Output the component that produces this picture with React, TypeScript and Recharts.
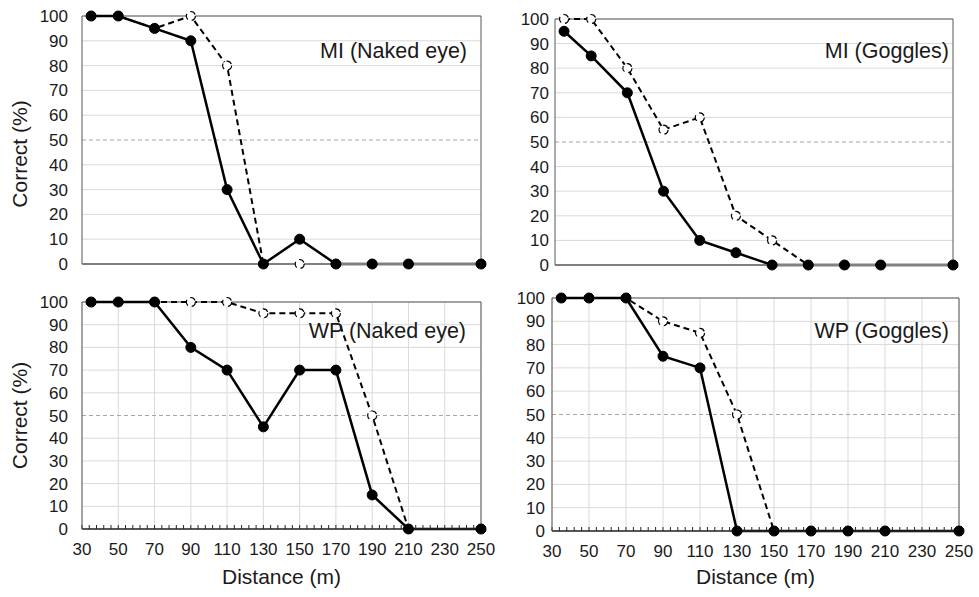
import React from 'react'
import { LineChart, Line, XAxis, YAxis, CartesianGrid, ReferenceLine, Label } from 'recharts'

// distances (m) where each condition was tested
const distances = [35, 50, 70, 90, 110, 130, 150, 170, 190, 210, 250]

// % correct, solid = filled markers, dashed = open markers
const miNakedSolid = [100, 100, 95, 90, 30, 0, 10, 0, 0, 0, 0]
const miNakedDashed = [100, 100, 95, 100, 80, 0, 0, 0, 0, 0, 0]
const miGogglesSolid = [95, 85, 70, 30, 10, 5, 0, 0, 0, 0, 0]
const miGogglesDashed = [100, 100, 80, 55, 60, 20, 10, 0, 0, 0, 0]
const wpNakedSolid = [100, 100, 100, 80, 70, 45, 70, 70, 15, 0, 0]
const wpNakedDashed = [100, 100, 100, 100, 100, 95, 95, 95, 50, 0, 0]
const wpGogglesSolid = [100, 100, 100, 75, 70, 0, 0, 0, 0, 0, 0]
const wpGogglesDashed = [100, 100, 100, 90, 85, 50, 0, 0, 0, 0, 0]

const xTicks = [30, 50, 70, 90, 110, 130, 150, 170, 190, 210, 230, 250]
const yTicks = [0, 10, 20, 30, 40, 50, 60, 70, 80, 90, 100]
const gridY = yTicks.filter((v) => v !== 50)

// minor ticks every 4 m along the bottom axes
const minorTicks: number[] = []
for (let v = 30; v <= 250; v += 4) minorTicks.push(v)

const FONT = '"Liberation Sans", Arial, sans-serif'
const INK = '#1a1a1a'

const panels = [
  {
    title: 'MI (Naked eye)', solid: miNakedSolid, dashed: miNakedDashed,
    left: 0, top: 0, width: 500, height: 290,
    plot: { l: 82, r: 481, t: 16, b: 264 }, tickGap: 14, bottom: false,
    titleRight: 467, titleY: 52.5, yTitle: true, yTitleShift: 14,
  },
  {
    title: 'MI (Goggles)', solid: miGogglesSolid, dashed: miGogglesDashed,
    left: 490, top: 0, width: 489, height: 290,
    plot: { l: 555, r: 953, t: 19, b: 265 }, tickGap: 6, bottom: false,
    titleRight: 949, titleY: 52.5, yTitle: false, yTitleShift: 0,
  },
  {
    title: 'WP (Naked eye)', solid: wpNakedSolid, dashed: wpNakedDashed,
    left: 0, top: 290, width: 500, height: 307,
    plot: { l: 82, r: 481, t: 302, b: 529 }, tickGap: 14, bottom: true,
    titleRight: 466, titleY: 333, yTitle: true, yTitleShift: 0,
  },
  {
    title: 'WP (Goggles)', solid: wpGogglesSolid, dashed: wpGogglesDashed,
    left: 490, top: 290, width: 489, height: 307,
    plot: { l: 552, r: 959, t: 298, b: 531 }, tickGap: 7, bottom: true,
    titleRight: 949, titleY: 332.5, yTitle: false, yTitleShift: 0,
  },
]

const YTitle = ({ viewBox, shift }: any) => {
  const x = viewBox.x + 27
  const y = viewBox.y + viewBox.height / 2 + shift
  return (
    <text x={x} y={y} transform={`rotate(-90 ${x} ${y})`} textAnchor="middle" fontSize={21} fill={INK}>
      Correct (%)
    </text>
  )
}

function Panel({ p }: { p: (typeof panels)[number] }) {
  const data = distances.map((d, i) => ({ d, solid: p.solid[i], dashed: p.dashed[i] }))
  const margin = {
    top: p.plot.t - p.top,
    right: p.left + p.width - p.plot.r,
    left: 0,
    bottom: 0,
  }
  return (
    <div style={{ position: 'absolute', left: p.left, top: p.top }}>
      <LineChart width={p.width} height={p.height} data={data} margin={margin}>
        <CartesianGrid stroke="#d9d9d9" horizontalValues={gridY} verticalValues={xTicks} />
        <ReferenceLine y={50} stroke="#a6a6a6" strokeDasharray="4 3" />
        <ReferenceLine y={100} stroke="#595959" />
        <ReferenceLine x={250} stroke="#595959" />
        {p.bottom ? (
          <XAxis
            dataKey="d"
            type="number"
            domain={[30, 250]}
            ticks={minorTicks}
            interval={0}
            tickFormatter={(v: number) => (xTicks.includes(v) ? String(v) : '')}
            tickSize={-4}
            tickMargin={18}
            tickLine={{ stroke: '#262626' }}
            axisLine={{ stroke: '#262626', strokeWidth: 1.5 }}
            tick={{ fill: INK, fontSize: 17 }}
            height={p.top + p.height - p.plot.b}
          >
            <Label value="Distance (m)" position="insideBottom" offset={13} fontSize={21} fill={INK} />
          </XAxis>
        ) : (
          <XAxis
            dataKey="d"
            type="number"
            domain={[30, 250]}
            ticks={xTicks}
            tick={false}
            tickLine={false}
            axisLine={{ stroke: '#808080', strokeWidth: 2 }}
            height={p.top + p.height - p.plot.b}
          />
        )}
        <YAxis
          type="number"
          domain={[0, 100]}
          ticks={yTicks}
          interval={0}
          tickSize={0}
          tickLine={false}
          tickMargin={p.tickGap}
          axisLine={{ stroke: '#595959' }}
          tick={{ fill: INK, fontSize: 17 }}
          width={p.plot.l - p.left}
        >
          {p.yTitle && <Label content={(props: any) => <YTitle {...props} shift={p.yTitleShift} />} />}
        </YAxis>
        <Line
          type="linear"
          dataKey="dashed"
          stroke="#000"
          strokeWidth={2}
          strokeDasharray="6 4"
          dot={{ r: 4.5, fill: '#fff', stroke: '#000', strokeWidth: 1.2 }}
          isAnimationActive={false}
        />
        <Line
          type="linear"
          dataKey="solid"
          stroke="#000"
          strokeWidth={2.5}
          dot={{ r: 5, fill: '#000', stroke: '#000', strokeWidth: 1 }}
          isAnimationActive={false}
        />
      </LineChart>
    </div>
  )
}

export default function App() {
  return (
    <div style={{ position: 'absolute', left: 0, top: 0, width: 979, height: 597, background: '#fff', fontFamily: FONT }}>
      {panels.map((p) => (
        <Panel key={p.title} p={p} />
      ))}
      {panels.map((p) => (
        <div
          key={`t-${p.title}`}
          style={{
            position: 'absolute',
            left: 0,
            width: p.titleRight,
            top: p.titleY - 13.8,
            textAlign: 'right',
            fontSize: 21.5,
            lineHeight: '24px',
            color: INK,
            whiteSpace: 'nowrap',
          }}
        >
          {p.title}
        </div>
      ))}
    </div>
  )
}
